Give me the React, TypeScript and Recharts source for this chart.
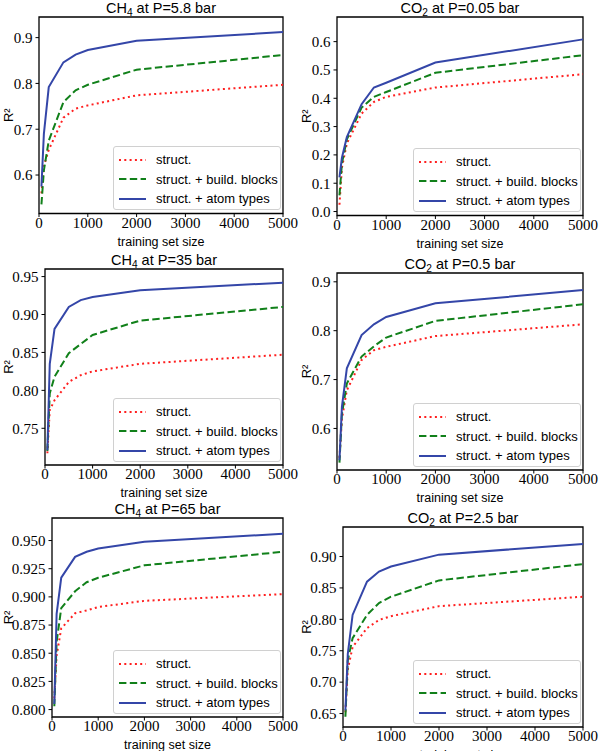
import { LineChart, Line, XAxis, YAxis, ReferenceArea, Legend } from 'recharts';

const sizes = [50, 100, 200, 500, 750, 1000, 2000, 5000];
const xTicks = [0, 1000, 2000, 3000, 4000, 5000];

// CH4 at 5.8 bar
const ch4LowStruct = [0.56, 0.62, 0.655, 0.725, 0.745, 0.752, 0.774, 0.797];
const ch4LowBlocks = [0.536, 0.61, 0.675, 0.759, 0.785, 0.797, 0.83, 0.862];
const ch4LowAtoms = [0.575, 0.69, 0.792, 0.846, 0.863, 0.873, 0.893, 0.912];

// CO2 at 0.05 bar
const co2LowStruct = [0.024, 0.155, 0.24, 0.346, 0.387, 0.405, 0.438, 0.485];
const co2LowBlocks = [0.057, 0.17, 0.255, 0.367, 0.405, 0.422, 0.49, 0.552];
const co2LowAtoms = [0.121, 0.19, 0.263, 0.379, 0.438, 0.455, 0.526, 0.608];

// CH4 at 35 bar
const ch4MidStruct = [0.717, 0.774, 0.787, 0.811, 0.82, 0.825, 0.835, 0.847];
const ch4MidBlocks = [0.72, 0.796, 0.818, 0.849, 0.861, 0.873, 0.892, 0.91];
const ch4MidAtoms = [0.721, 0.835, 0.881, 0.91, 0.919, 0.923, 0.932, 0.942];

// CO2 at 0.5 bar
const co2MidStruct = [0.54, 0.62, 0.678, 0.74, 0.76, 0.767, 0.789, 0.813];
const co2MidBlocks = [0.53, 0.63, 0.692, 0.747, 0.768, 0.786, 0.82, 0.854];
const co2MidAtoms = [0.535, 0.644, 0.723, 0.791, 0.813, 0.828, 0.856, 0.883];

// CH4 at 65 bar
const ch4HighStruct = [0.81, 0.848, 0.872, 0.8855, 0.888, 0.891, 0.8965, 0.9025];
const ch4HighBlocks = [0.803, 0.86, 0.89, 0.905, 0.913, 0.917, 0.928, 0.94];
const ch4HighAtoms = [0.805, 0.885, 0.917, 0.9355, 0.94, 0.943, 0.949, 0.956];

// CO2 at 2.5 bar
const co2HighStruct = [0.652, 0.72, 0.756, 0.786, 0.799, 0.805, 0.821, 0.836];
const co2HighBlocks = [0.645, 0.735, 0.77, 0.807, 0.826, 0.836, 0.862, 0.888];
const co2HighAtoms = [0.655, 0.745, 0.807, 0.86, 0.876, 0.884, 0.903, 0.92];

const seriesNames = ['struct.', 'struct. + build. blocks', 'struct. + atom types'];

const sans = '"Liberation Sans", Arial, sans-serif';
const serif = '"Liberation Serif", "Times New Roman", serif';

const series = [
  { key: 'struct', name: seriesNames[0], color: '#ff1f1f', dash: '2 3.3' },
  { key: 'blocks', name: seriesNames[1], color: '#11801a', dash: '7.4 3.4' },
  { key: 'atoms', name: seriesNames[2], color: '#3446a8', dash: undefined as string | undefined },
];

const rows = (a: number[], b: number[], c: number[]) =>
  sizes.map((s, i) => ({ size: s, struct: a[i], blocks: b[i], atoms: c[i] }));

const panels = [
  { gas: 'CH', sub: '4', p: '5.8', x0: 0, L: 39, R: 283, T: 16.5, B: 213, dom: [0.516, 0.945], yt: [0.6, 0.7, 0.8, 0.9], dec: 1, data: rows(ch4LowStruct, ch4LowBlocks, ch4LowAtoms) },
  { gas: 'CO', sub: '2', p: '0.05', x0: 300, L: 337, R: 583, T: 16.5, B: 215, dom: [-0.014, 0.687], yt: [0, 0.1, 0.2, 0.3, 0.4, 0.5, 0.6], dec: 1, data: rows(co2LowStruct, co2LowBlocks, co2LowAtoms) },
  { gas: 'CH', sub: '4', p: '35', x0: 0, L: 45, R: 283, T: 269, B: 465, dom: [0.7016, 0.96], yt: [0.75, 0.8, 0.85, 0.9, 0.95], dec: 2, data: rows(ch4MidStruct, ch4MidBlocks, ch4MidAtoms) },
  { gas: 'CO', sub: '2', p: '0.5', x0: 300, L: 337, R: 583, T: 273, B: 470, dom: [0.515, 0.918], yt: [0.6, 0.7, 0.8, 0.9], dec: 1, data: rows(co2MidStruct, co2MidBlocks, co2MidAtoms) },
  { gas: 'CH', sub: '4', p: '65', x0: 0, L: 52, R: 283, T: 518, B: 717, dom: [0.7934, 0.97], yt: [0.8, 0.825, 0.85, 0.875, 0.9, 0.925, 0.95], dec: 3, data: rows(ch4HighStruct, ch4HighBlocks, ch4HighAtoms) },
  { gas: 'CO', sub: '2', p: '2.5', x0: 300, L: 343, R: 583, T: 527, B: 727, dom: [0.6286, 0.947], yt: [0.65, 0.7, 0.75, 0.8, 0.85, 0.9], dec: 2, data: rows(co2HighStruct, co2HighBlocks, co2HighAtoms) },
];

const LegendBox = () => (
  <div
    style={{
      width: 168,
      height: 64,
      boxSizing: 'border-box',
      border: '1px solid #d0d0d0',
      borderRadius: 3,
      background: 'rgba(255,255,255,0.85)',
      paddingTop: 3,
      fontFamily: sans,
      fontSize: 13,
      color: '#000',
    }}
  >
    {series.map((s) => (
      <div key={s.key} style={{ display: 'flex', alignItems: 'center', height: 19.5 }}>
        <svg width={42} height={10} style={{ flex: 'none' }}>
          <line x1={5} x2={32} y1={5} y2={5} stroke={s.color} strokeWidth={2} strokeDasharray={s.dash} />
        </svg>
        <span style={{ whiteSpace: 'nowrap' }}>{s.name}</span>
      </div>
    ))}
  </div>
);

const TOP = 25;
const BOTTOM = 38;

const Panel = ({ cfg }: { cfg: (typeof panels)[number] }) => {
  const plotH = cfg.B - cfg.T;
  const height = TOP + plotH + BOTTOM;
  const labelX = cfg.x0 === 0 ? 8 : 6;
  return (
    <>
      <div
        style={{
          position: 'absolute',
          left: cfg.L,
          width: cfg.R - cfg.L,
          top: cfg.T - 17,
          textAlign: 'center',
          fontFamily: sans,
          fontSize: 14.5,
          lineHeight: '17px',
          whiteSpace: 'nowrap',
        }}
      >
        {cfg.gas}
        <sub style={{ fontSize: '0.7em', verticalAlign: '-0.3em', lineHeight: 0 }}>{cfg.sub}</sub>
        {' at P=' + cfg.p + ' bar'}
      </div>
      <div style={{ position: 'absolute', left: cfg.x0, top: cfg.T - TOP }}>
        <LineChart width={300} height={height} data={cfg.data} margin={{ top: TOP, right: cfg.x0 + 300 - cfg.R, left: 0, bottom: 0 }}>
          <XAxis
            dataKey="size"
            type="number"
            domain={[0, 5000]}
            ticks={xTicks}
            height={BOTTOM}
            axisLine={false}
            tickLine={{ stroke: '#000' }}
            tickSize={3.5}
            tickMargin={0}
            tick={{ fontFamily: serif, fontSize: 15, fill: '#000' }}
            label={{ value: 'training set size', position: 'insideBottom', offset: 6, fontFamily: sans, fontSize: 12.5, fill: '#000' }}
          />
          <YAxis
            type="number"
            domain={cfg.dom}
            ticks={cfg.yt}
            width={cfg.L - cfg.x0}
            axisLine={false}
            tickLine={{ stroke: '#000' }}
            tickSize={3.5}
            tickMargin={3}
            tickFormatter={(v: number) => v.toFixed(cfg.dec)}
            tick={{ fontFamily: serif, fontSize: 15, fill: '#000' }}
            label={() => (
              <text
                x={labelX}
                y={TOP + plotH / 2}
                transform={`rotate(-90 ${labelX} ${TOP + plotH / 2})`}
                textAnchor="middle"
                dominantBaseline="central"
                fontFamily={sans}
                fontSize={13}
                fill="#000"
              >
                R²
              </text>
            )}
          />
          <ReferenceArea x1={0} x2={5000} y1={cfg.dom[0]} y2={cfg.dom[1]} fill="none" fillOpacity={0} stroke="#000" strokeWidth={1.3} />
          {series.map((s) => (
            <Line
              key={s.key}
              dataKey={s.key}
              name={s.name}
              type="linear"
              stroke={s.color}
              strokeWidth={2}
              strokeDasharray={s.dash}
              dot={false}
              activeDot={false}
              isAnimationActive={false}
            />
          ))}
          <Legend
            layout="vertical"
            align="center"
            verticalAlign="middle"
            content={() => <LegendBox />}
            wrapperStyle={{ left: cfg.R - cfg.x0 - 2 - 168, top: TOP + plotH - 3 - 64, width: 168 }}
          />
        </LineChart>
      </div>
    </>
  );
};

export default function App() {
  return (
    <div style={{ position: 'absolute', left: 0, top: 0, width: 600, height: 751, overflow: 'hidden', background: '#fff' }}>
      {panels.map((p, i) => (
        <Panel key={i} cfg={p} />
      ))}
    </div>
  );
}
